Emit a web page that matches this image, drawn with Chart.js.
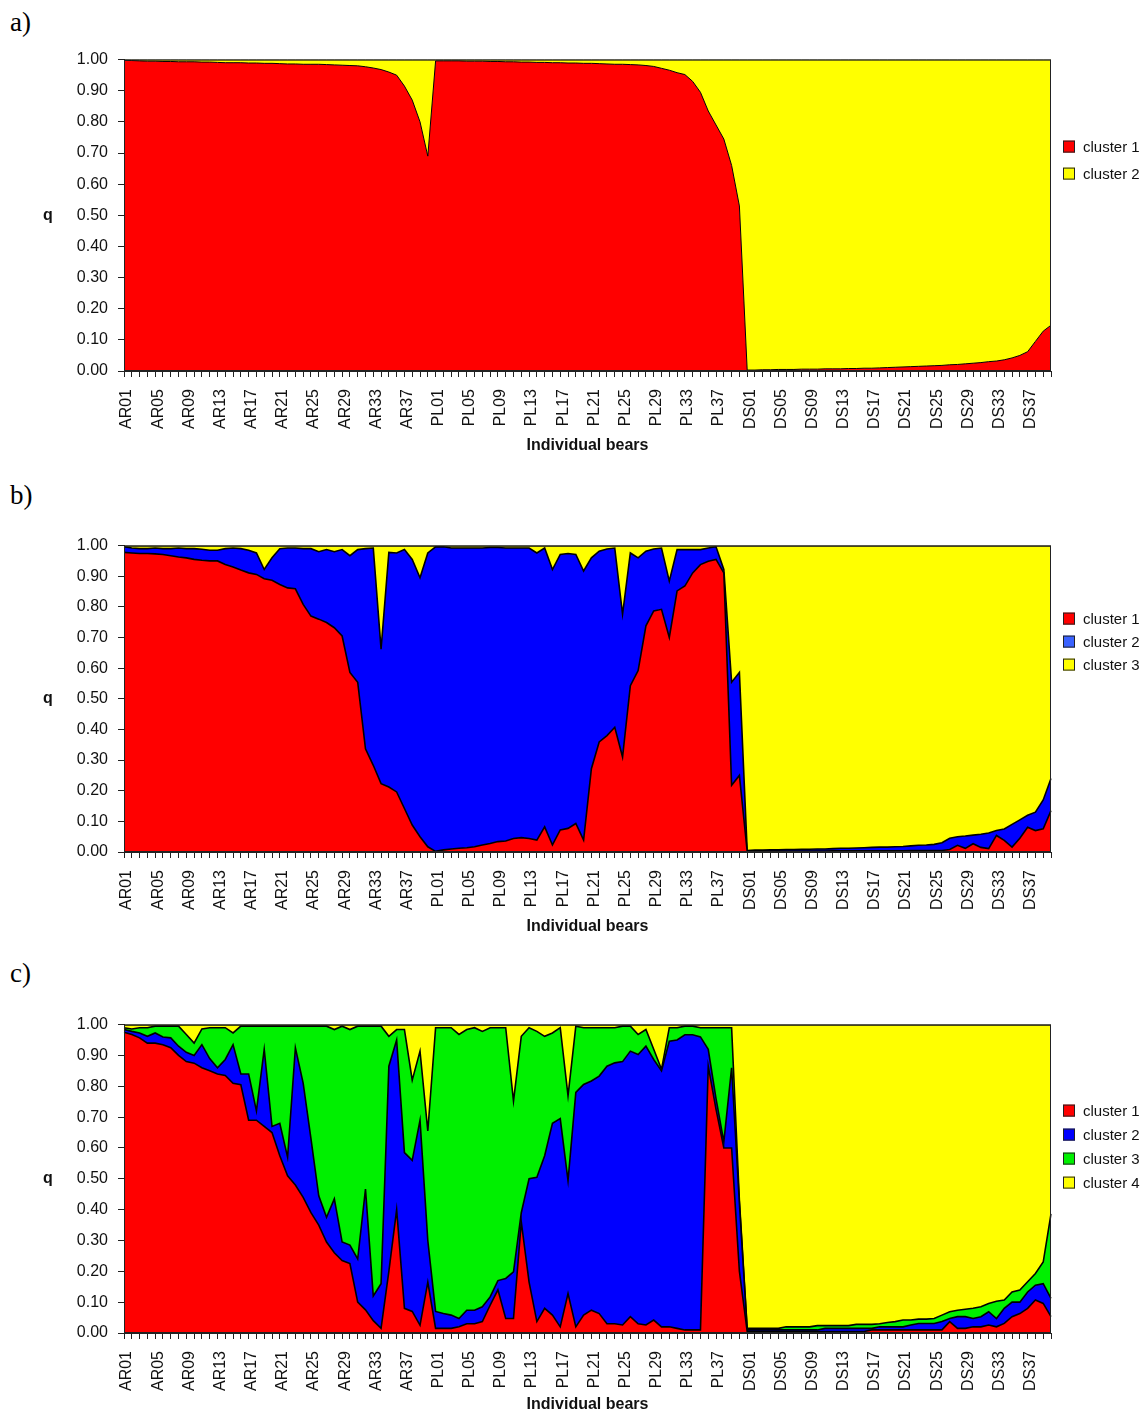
<!DOCTYPE html>
<html>
<head>
<meta charset="utf-8">
<title>Individual bears - cluster membership</title>
<script src="https://cdn.jsdelivr.net/npm/chart.js@4.4.1/dist/chart.umd.min.js"></script>
<style>
  html, body { margin: 0; padding: 0; background: #fff; }
  body { width: 1146px; height: 1414px; position: relative; overflow: hidden; }
  .panel-label { position: absolute; left: 10px; font-family: 'Liberation Serif', 'Times New Roman', serif; font-size: 27px; line-height: 27px; color: #000; }
  .chart-box { position: absolute; left: 0; width: 1146px; }
</style>
</head>
<body>
<div class="panel-label" style="top:9px">a)</div>
<div class="chart-box" style="top:40px;height:430px"><canvas id="chartA"></canvas></div>
<div class="panel-label" style="top:482px">b)</div>
<div class="chart-box" style="top:526px;height:424px"><canvas id="chartB"></canvas></div>
<div class="panel-label" style="top:960px">c)</div>
<div class="chart-box" style="top:1005px;height:409px"><canvas id="chartC"></canvas></div>

<script>
// categories: 40 bears in each of three populations
const populations = ['AR', 'PL', 'DS'];
const bearsPerPopulation = 40;
const labelStep = 4; // only every 4th bear is labelled
const clusterNames = ['cluster 1', 'cluster 2', 'cluster 3', 'cluster 4'];

// a) K = 2
const aCluster1 = [
  .998,.997,.996,.995,.995,.994,.994,.993,.993,.993, .992,.992,.991,.990,.990,.990,.989,.989,.988,.988, .987,.986,.986,.985,.985,.985,.984,.983,.982,.981, .980,.977,.973,.968,.960,.950,.915,.870,.800,.690,
  .996,.996,.996,.996,.995,.995,.995,.994,.994,.993, .993,.992,.992,.991,.991,.990,.990,.989,.989,.988, .988,.987,.986,.985,.985,.984,.983,.981,.978,.972, .966,.958,.952,.930,.895,.835,.790,.745,.660,.530,
  .003,.003,.004,.004,.005,.005,.005,.006,.006,.006, .007,.007,.007,.008,.008,.009,.009,.010,.011,.012, .013,.014,.015,.016,.017,.018,.020,.021,.023,.025, .027,.030,.032,.036,.042,.050,.062,.095,.128,.147
];
const aCluster2 = [
  .002,.003,.004,.005,.005,.006,.006,.007,.007,.007, .008,.008,.009,.010,.010,.010,.011,.011,.012,.012, .013,.014,.014,.015,.015,.015,.016,.017,.018,.019, .020,.023,.027,.032,.040,.050,.085,.130,.200,.310,
  .004,.004,.004,.004,.005,.005,.005,.006,.006,.007, .007,.008,.008,.009,.009,.010,.010,.011,.011,.012, .012,.013,.014,.015,.015,.016,.017,.019,.022,.028, .034,.042,.048,.070,.105,.165,.210,.255,.340,.470,
  .997,.997,.996,.996,.995,.995,.995,.994,.994,.994, .993,.993,.993,.992,.992,.991,.991,.990,.989,.988, .987,.986,.985,.984,.983,.982,.980,.979,.977,.975, .973,.970,.968,.964,.958,.950,.938,.905,.872,.853
];

// b) K = 3
const bCluster1 = [
  .978,.976,.974,.974,.973,.971,.967,.963,.960,.955, .952,.950,.950,.938,.930,.920,.911,.906,.892,.887, .873,.862,.859,.808,.770,.760,.749,.732,.705,.586, .554,.337,.283,.223,.212,.196,.142,.088,.050,.017,
  .002,.007,.010,.012,.014,.017,.023,.028,.034,.036, .044,.047,.044,.039,.082,.023,.072,.077,.093,.039, .272,.359,.380,.407,.310,.543,.592,.738,.787,.792, .700,.852,.868,.911,.938,.949,.955,.911,.218,.250,
  .002,.003,.003,.003,.003,.003,.003,.003,.003,.003, .003,.004,.004,.004,.004,.004,.004,.004,.004,.004, .004,.005,.005,.005,.005,.005,.008,.022,.012,.027, .015,.011,.054,.038,.016,.045,.081,.070,.076,.135
];
const bCluster2 = [
  .018,.016,.016,.016,.019,.019,.023,.029,.030,.035, .036,.035,.035,.052,.062,.070,.074,.070,.030,.073, .117,.130,.133,.182,.220,.220,.238,.248,.282,.381, .433,.653,.709,.439,.766,.780,.845,.867,.845,.959,
  .994,.989,.982,.980,.978,.975,.969,.966,.960,.956, .948,.945,.948,.937,.910,.899,.899,.897,.878,.878, .688,.623,.609,.585,.466,.433,.368,.244,.202,.200, .184,.135,.119,.076,.049,.043,.041,.011,.336,.336,
  .003,.003,.003,.004,.004,.005,.005,.006,.006,.007, .007,.007,.008,.008,.009,.010,.011,.012,.012,.013, .014,.015,.017,.018,.020,.025,.037,.028,.040,.028, .043,.051,.016,.037,.074,.060,.039,.060,.094,.105
];
const bCluster3 = [
  .004,.008,.010,.010,.008,.010,.010,.008,.010,.010, .012,.015,.015,.010,.008,.010,.015,.024,.078,.040, .010,.008,.008,.010,.010,.020,.013,.020,.013,.033, .013,.010,.008,.338,.022,.024,.013,.045,.105,.024,
  .004,.004,.008,.008,.008,.008,.008,.006,.006,.008, .008,.008,.008,.024,.008,.078,.029,.026,.029,.083, .040,.018,.011,.008,.224,.024,.040,.018,.011,.008, .116,.013,.013,.013,.013,.008,.004,.078,.446,.414,
  .995,.994,.994,.993,.993,.992,.992,.991,.991,.990, .990,.989,.988,.988,.987,.986,.985,.984,.984,.983, .982,.980,.978,.977,.975,.970,.955,.950,.948,.945, .942,.938,.930,.925,.910,.895,.880,.870,.830,.760
];

// c) K = 4
const cCluster1 = [
  .975,.968,.957,.940,.940,.935,.925,.900,.880,.875, .860,.850,.840,.835,.810,.805,.690,.690,.670,.650, .575,.510,.480,.440,.390,.350,.295,.260,.235,.225, .100,.075,.040,.015,.200,.400,.080,.070,.025,.165,
  .015,.015,.015,.020,.030,.030,.037,.090,.140,.047, .047,.360,.165,.037,.080,.058,.020,.128,.020,.058, .074,.063,.030,.030,.026,.053,.030,.026,.042,.020, .020,.015,.010,.010,.010,.865,.725,.600,.600,.200,
  .005,.005,.005,.005,.005,.005,.005,.005,.005,.005, .005,.005,.005,.005,.005,.005,.010,.010,.010,.010, .010,.010,.010,.010,.010,.010,.037,.015,.015,.020, .020,.026,.020,.031,.053,.063,.080,.107,.096,.053
];
const cCluster2 = [
  .009,.010,.016,.022,.033,.025,.032,.030,.030,.025, .075,.040,.020,.052,.125,.035,.150,.030,.250,.020, .105,.060,.445,.370,.240,.095,.080,.175,.060,.060, .140,.392,.080,.145,.665,.550,.505,.490,.665,.135,
  .055,.048,.043,.027,.044,.044,.048,.027,.030,.130, .151,.030,.335,.468,.495,.622,.675,.366,.760,.748, .743,.770,.835,.846,.854,.861,.873,.904,.845,.830, .926,.935,.957,.957,.950,.055,.035,.020,.260,.220,
  .005,.005,.005,.005,.005,.005,.005,.005,.005,.005, .010,.010,.010,.010,.010,.010,.005,.010,.010,.010, .010,.016,.021,.021,.021,.027,.010,.038,.038,.027, .033,.043,.027,.049,.047,.037,.053,.048,.064,.059
];
const cCluster3 = [
  .006,.008,.017,.028,.022,.035,.038,.065,.058,.040, .051,.100,.130,.103,.038,.155,.155,.275,.075,.325, .315,.425,.070,.185,.365,.550,.620,.549,.700,.699, .755,.528,.875,.835,.097,.034,.399,.260,.224,.355,
  .920,.927,.932,.921,.910,.916,.893,.873,.820,.813, .554,.572,.490,.473,.387,.293,.295,.275,.215,.184, .173,.157,.125,.114,.115,.081,.065,.054,.033,.005, .044,.040,.028,.028,.030,.070,.230,.370,.130,.010,
  .005,.005,.005,.005,.005,.010,.010,.010,.010,.014, .009,.009,.009,.009,.013,.013,.013,.010,.014,.017, .022,.016,.014,.014,.016,.021,.022,.021,.024,.033, .032,.027,.056,.027,.033,.039,.033,.038,.070,.274
];
const cCluster4 = [
  .010,.014,.010,.010,.005,.005,.005,.005,.032,.060, .014,.010,.010,.010,.027,.005,.005,.005,.005,.005, .005,.005,.005,.005,.005,.005,.005,.016,.005,.016, .005,.005,.005,.005,.038,.016,.016,.180,.086,.345,
  .010,.010,.010,.032,.016,.010,.022,.010,.010,.010, .248,.038,.010,.022,.038,.027,.010,.231,.005,.010, .010,.010,.010,.010,.005,.005,.032,.016,.080,.145, .010,.010,.005,.005,.010,.010,.010,.010,.010,.570,
  .985,.985,.985,.985,.985,.980,.980,.980,.980,.976, .976,.976,.976,.976,.972,.972,.972,.970,.966,.963, .958,.958,.955,.955,.953,.942,.931,.926,.923,.920, .915,.904,.897,.893,.867,.861,.834,.807,.770,.614
];

const RED = '#ff0000', YELLOW = '#ffff00', BLUE = '#0000ff', GREEN = '#00f000';
const FONT = "'Liberation Sans', Arial, Helvetica, sans-serif";

const bearLabels = [];
populations.forEach(function(p) {
    for (let n = 1; n <= bearsPerPopulation; n++) {
        bearLabels.push(p + String(n).padStart(2, '0'));
    }
});

// frame round the plot, the upright "q" and the small legend on the right
const panelDecor = {
    id: 'panelDecor',
    afterDraw(chart, args, opts) {
        const ctx = chart.ctx;
        const area = chart.chartArea;
        ctx.save();
        ctx.strokeStyle = '#222';
        ctx.lineWidth = 1;
        ctx.strokeRect(area.left + 0.5, area.top + 0.5, area.right - area.left - 1, area.bottom - area.top - 1);

        ctx.fillStyle = '#111';
        ctx.font = 'bold 16px ' + FONT;
        ctx.textAlign = 'center';
        ctx.textBaseline = 'middle';
        ctx.fillText('q', 48, (area.top + area.bottom) / 2);

        ctx.font = '15px ' + FONT;
        ctx.textAlign = 'left';
        chart.data.datasets.forEach(function(ds, k) {
            const x = area.right + 12;
            const y = area.top + opts.legendTop + k * opts.legendGap;
            ctx.fillStyle = ds.legendColor || ds.backgroundColor;
            ctx.fillRect(x, y - 6, 12, 12);
            ctx.strokeStyle = '#222';
            ctx.strokeRect(x + 0.5, y - 5.5, 11, 11);
            ctx.fillStyle = '#111';
            ctx.fillText(ds.label, x + 20, y + 1);
        });
        ctx.restore();
    }
};

function makePanel(canvasId, series, colors, setup) {
    const datasets = series.map(function(values, k) {
        return {
            label: clusterNames[k],
            data: values,
            backgroundColor: colors[k],
            legendColor: setup.legendColors ? setup.legendColors[k] : null,
            borderColor: '#000',
            borderWidth: setup.lineWidth,
            pointRadius: 0,
            tension: 0,
            fill: k === 0 ? 'origin' : '-1'
        };
    });

    return new Chart(document.getElementById(canvasId), {
        type: 'line',
        data: { labels: bearLabels, datasets: datasets },
        plugins: [panelDecor],
        options: {
            responsive: true,
            maintainAspectRatio: false,
            animation: false,
            layout: { padding: { top: 18, right: 95, left: 0, bottom: 0 } },
            plugins: {
                legend: { display: false },
                tooltip: { enabled: false },
                panelDecor: { legendTop: setup.legendTop, legendGap: setup.legendGap }
            },
            scales: {
                x: {
                    ticks: {
                        autoSkip: false,
                        minRotation: 90,
                        maxRotation: 90,
                        padding: 12,
                        labelOffset: 3,
                        color: '#111',
                        font: { size: 16, family: FONT },
                        callback: function(value, index) {
                            return index % labelStep === 0 ? this.getLabelForValue(value) : '';
                        }
                    },
                    grid: { drawOnChartArea: false, tickLength: 6, color: '#222' },
                    border: { display: true, color: '#222' },
                    title: {
                        display: true,
                        text: 'Individual bears',
                        color: '#111',
                        font: { size: 16, weight: 'bold', family: FONT },
                        padding: { top: 0, bottom: setup.titlePad }
                    },
                    afterFit: function(scale) { scale.height = setup.axisHeight; }
                },
                y: {
                    stacked: true,
                    min: 0,
                    max: 1,
                    ticks: {
                        stepSize: 0.1,
                        padding: 10,
                        color: '#111',
                        font: { size: 16, family: FONT },
                        callback: function(v) { return Number(v).toFixed(2); }
                    },
                    grid: { drawOnChartArea: false, tickLength: 6, color: '#222' },
                    border: { display: true, color: '#222' },
                    afterFit: function(scale) { scale.width = 124; }
                }
            }
        }
    });
}

makePanel('chartA', [aCluster1, aCluster2], [RED, YELLOW],
    { lineWidth: 1, legendTop: 87, legendGap: 27, axisHeight: 99, titlePad: 15 });
makePanel('chartB', [bCluster1, bCluster2, bCluster3], [RED, BLUE, YELLOW],
    { lineWidth: 1.6, legendTop: 73, legendGap: 23, axisHeight: 98, titlePad: 14, legendColors: [RED, '#3a62ff', YELLOW] });
makePanel('chartC', [cCluster1, cCluster2, cCluster3, cCluster4], [RED, BLUE, GREEN, YELLOW],
    { lineWidth: 1.6, legendTop: 86, legendGap: 24, axisHeight: 81, titlePad: 0 });
</script>
</body>
</html>
